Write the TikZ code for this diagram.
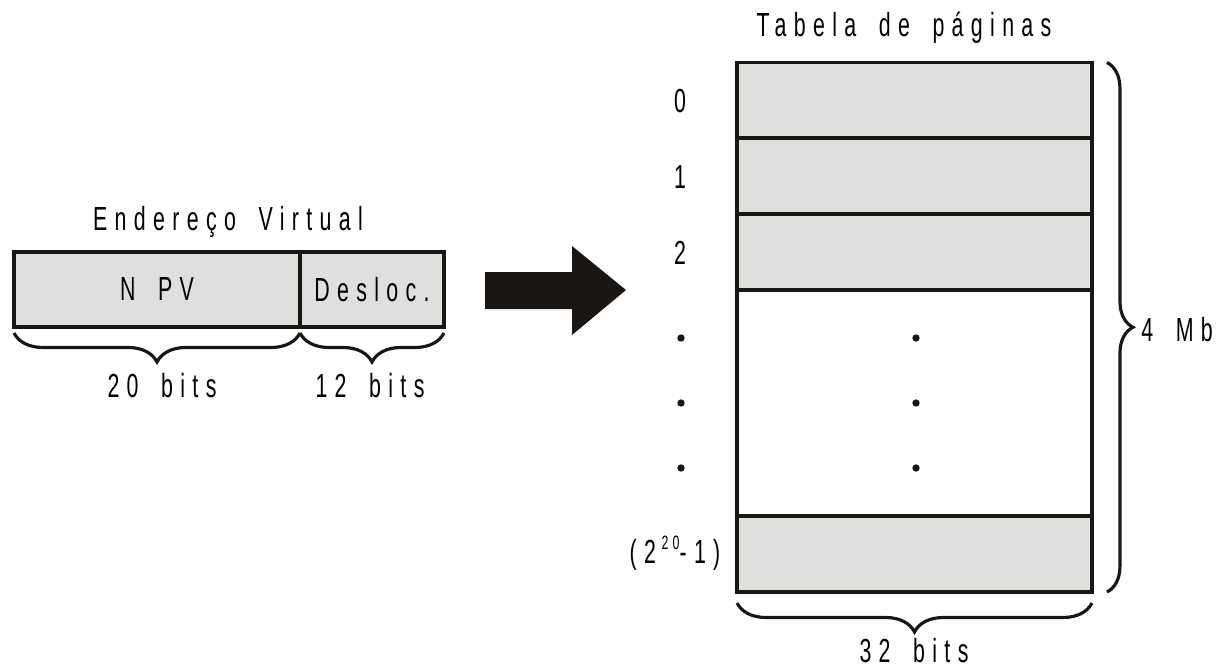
\documentclass[tikz,border=0pt]{standalone}
\usepackage{fontspec}
\newfontfamily\spaced[LetterSpace=22,WordSpace=1.7,FakeStretch=0.64]{Liberation Sans}
\usetikzlibrary{decorations.pathreplacing}
\definecolor{cellgray}{RGB}{223,223,222}
\definecolor{inkblack}{RGB}{26,22,19}

\begin{document}
\begin{tikzpicture}[x=0.02cm, y=-0.02cm,
    font=\spaced\fontsize{19}{22}\selectfont,
    cell/.style={draw=inkblack, line width=2.2pt, fill=cellgray,
      inner sep=0pt, outer sep=0pt},
    curly/.style={decorate, decoration={brace, amplitude=#1},
      draw=inkblack, line width=1.8pt}
  ]
  % Page size (pixels of the original drawing)
  \useasboundingbox (0,0) rectangle (1220,670);

  % Virtual address: page number and offset
  \node (virt) at (228,222) {Endereço Virtual};
  \node[cell, minimum width=5.72cm, minimum height=1.5cm] (npv) at (157,289.5) {N PV};
  \node[cell, minimum width=2.88cm, minimum height=1.5cm] (desloc) at (372,289.5) {Desloc.};
  \draw[curly=0.58cm] ([shift={(0,6)}]npv.south east) -- ([shift={(0,6)}]npv.south west);
  \draw[curly=0.58cm] ([shift={(0,6)}]desloc.south east) -- ([shift={(0,6)}]desloc.south west);
  \node (bits20) at (162,386) {20 bits};
  \node (bits12) at (370,386) {12 bits};

  % Big arrow towards the table
  \fill[inkblack] (485,272) -- (572,272) -- (572,246) -- (626,290)
    -- (572,335) -- (572,309) -- (485,309) -- cycle;

  % Page table
  \node (title) at (904,28) {Tabela de páginas};
  \foreach \i/\yc in {0/100.5, 1/176, 2/252} {
    \node[cell, minimum width=7.1cm, minimum height=1.52cm] (row\i) at (914.5,\yc) {};
    \node (idx\i) at (680,\yc+1) {\i};
  }
  \node[cell, fill=white, minimum width=7.1cm, minimum height=4.52cm] (rowdots) at (914.5,403) {};
  \node[cell, minimum width=7.1cm, minimum height=1.52cm] (rowlast) at (914.5,554) {};
  \node (idxlast) at (675,553) {(2\,\raisebox{0.8ex}{\fontsize{11}{12}\selectfont 20}-1)};

  % The dots for the rows that are left out
  \foreach \y in {338, 403, 468} {
    \fill[inkblack] (681,\y) circle (2.1pt);
    \fill[inkblack] (916,\y) circle (2.1pt);
  }

  % Size of the table
  \draw[curly=0.52cm] ([shift={(15,0)}]row0.north east) -- ([shift={(15,0)}]rowlast.south east);
  \node[anchor=east] (size) at (1219,330) {4 Mb};
  \draw[curly=0.58cm] ([shift={(0,11)}]rowlast.south east) -- ([shift={(0,11)}]rowlast.south west);
  \node (bits32) at (914,651) {32 bits};
\end{tikzpicture}
\end{document}
